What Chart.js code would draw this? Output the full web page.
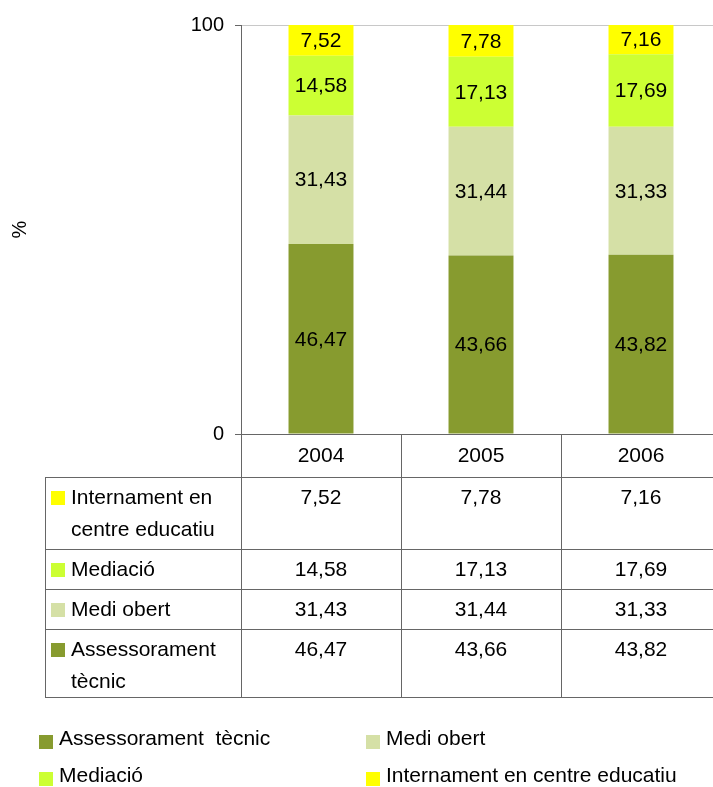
<!DOCTYPE html>
<html>
<head>
<meta charset="utf-8">
<script src="https://cdn.jsdelivr.net/npm/chart.js@4/dist/chart.umd.min.js"></script>
<style>
    html, body { margin: 0; padding: 0; background: #fff; overflow: hidden; }
    #wrap { width: 730px; height: 787px; }
</style>
</head>
<body>
<div id="wrap"><canvas id="chart" width="730" height="787"></canvas></div>
<script>

const years = ["2004", "2005", "2006"];

const assessorament = [46.47, 43.66, 43.82];
const mediObert = [31.43, 31.44, 31.33];
const mediacio = [14.58, 17.13, 17.69];
const internament = [7.52, 7.78, 7.16];

const seriesNames = ["Assessorament  tècnic", "Medi obert", "Mediació", "Internament en centre educatiu"];
const tableNames = [
    ["Internament en", "centre educatiu"],
    ["Mediació"],
    ["Medi obert"],
    ["Assessorament", "tècnic"]
];

const colors = ["#879b2f", "#d5e0a6", "#ccff33", "#ffff00"];

const FONT = "Liberation Sans, Arial, sans-serif";

const fmt = v => v.toFixed(2).replace(".", ",");

const extras = {

    id: "extras",

    afterDatasetsDraw(chart) {

        const ctx = chart.ctx;

        ctx.save();
        ctx.font = "21px " + FONT;
        ctx.fillStyle = "#000";
        ctx.textAlign = "center";
        ctx.textBaseline = "middle";

        chart.data.datasets.forEach((ds, i) => {
            chart.getDatasetMeta(i).data.forEach((bar, j) => {
                ctx.fillText(fmt(ds.data[j]), bar.x, (bar.y + bar.base) / 2 + 1);
            });
        });

        ctx.restore();
    },

    afterDraw(chart) {

        const ctx = chart.ctx;
        const x = chart.scales.x;
        const area = chart.chartArea;

        const colW = x.getPixelForValue(1) - x.getPixelForValue(0);
        const left = area.left;
        const right = area.right;
        const tableLeft = 45;
        const top = area.bottom;
        const headerBottom = top + 43;
        const rowHeights = [72, 40, 40, 68];

        ctx.save();
        ctx.strokeStyle = "#666";
        ctx.lineWidth = 1;

        let rowLines = [headerBottom];
        rowHeights.forEach(h => rowLines.push(rowLines[rowLines.length - 1] + h));
        const tableBottom = rowLines[rowLines.length - 1];

        ctx.beginPath();
        rowLines.forEach(yy => {
            ctx.moveTo(tableLeft, yy + 0.5);
            ctx.lineTo(right, yy + 0.5);
        });
        ctx.moveTo(tableLeft + 0.5, headerBottom);
        ctx.lineTo(tableLeft + 0.5, tableBottom);
        for (let c = 0; c <= years.length; c++) {
            const cx = Math.round(left + c * colW) + 0.5;
            ctx.moveTo(cx, top);
            ctx.lineTo(cx, tableBottom);
        }
        ctx.stroke();

        ctx.font = "21px " + FONT;
        ctx.fillStyle = "#000";
        ctx.textBaseline = "middle";

        // header years
        ctx.textAlign = "center";
        years.forEach((y, i) => {
            ctx.fillText(y, x.getPixelForValue(i), top + 22);
        });

        // rows, top series first
        const order = [3, 2, 1, 0];
        order.forEach((dsIndex, r) => {
            const rowTop = rowLines[r];
            const firstLine = rowTop + 21;

            ctx.fillStyle = colors[dsIndex];
            ctx.fillRect(51, firstLine - 7, 14, 14);

            ctx.fillStyle = "#000";
            ctx.textAlign = "left";
            tableNames[r].forEach((line, k) => {
                ctx.fillText(line, 71, firstLine + k * 32);
            });

            ctx.textAlign = "center";
            chart.data.datasets[dsIndex].data.forEach((v, j) => {
                ctx.fillText(fmt(v), x.getPixelForValue(j), firstLine);
            });
        });

        // legend
        const legendPos = [
            [39, 739], [366, 739],
            [39, 776], [366, 776]
        ];
        ctx.textAlign = "left";
        seriesNames.forEach((name, i) => {
            const [lx, ly] = legendPos[i];
            ctx.fillStyle = colors[i];
            ctx.fillRect(lx, ly - 4, 14, 14);
            ctx.fillStyle = "#000";
            ctx.fillText(name, lx + 20, ly);
        });

        ctx.restore();
    }
};

const ctx = document.getElementById("chart").getContext("2d");

new Chart(ctx, {

    type: "bar",

    data: {

        labels: years,

        datasets: [
            { label: seriesNames[0], data: assessorament, backgroundColor: colors[0] },
            { label: seriesNames[1], data: mediObert, backgroundColor: colors[1] },
            { label: seriesNames[2], data: mediacio, backgroundColor: colors[2] },
            { label: seriesNames[3], data: internament, backgroundColor: colors[3] }
        ]

    },

    options: {

        responsive: false,

        animation: false,

        layout: {
            padding: { top: 25, right: 9, bottom: 353, left: 0 }
        },

        datasets: {
            bar: {
                categoryPercentage: 1,
                barPercentage: 0.406,
                borderWidth: 0
            }
        },

        plugins: {
            legend: { display: false },
            tooltip: { enabled: false }
        },

        scales: {

            x: {
                stacked: true,
                display: false
            },

            y: {
                stacked: true,
                min: 0,
                max: 100,

                afterFit: scale => {
                    scale.width = 241;
                    scale.paddingTop = 0;
                    scale.paddingBottom = 0;
                },

                ticks: {
                    stepSize: 100,
                    padding: 11,
                    color: "#000",
                    font: { family: FONT, size: 20 }
                },

                grid: {
                    color: c => c.tick.value === 0 ? "#666" : "#c8c8c8",
                    tickColor: "#666",
                    tickLength: 6
                },

                border: {
                    color: "#666"
                },

                title: {
                    display: true,
                    text: "%",
                    color: "#000",
                    padding: { top: 8, bottom: 0 },
                    font: { family: FONT, size: 20 }
                }
            }
        }
    },

    plugins: [extras]
});
</script>
</body>
</html>
